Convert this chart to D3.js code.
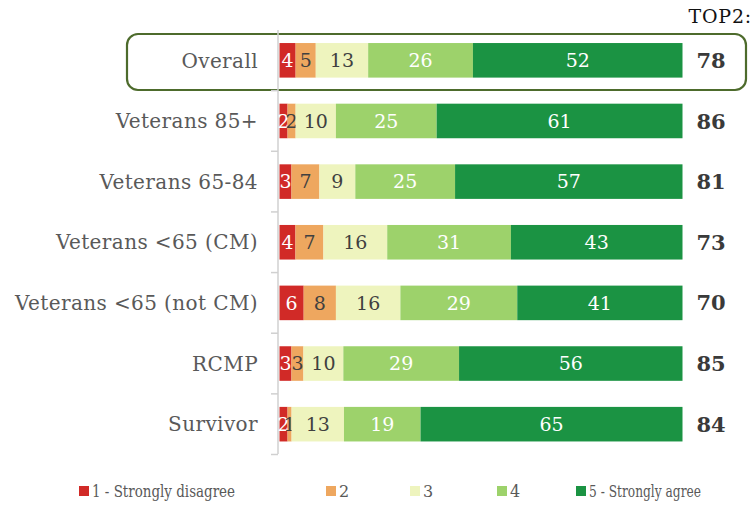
<!DOCTYPE html>
<html><head><meta charset="utf-8">
<script src="https://cdn.jsdelivr.net/npm/d3@7"></script>
<style>body{margin:0;background:#fff}svg{display:block}</style>
</head><body>
<svg id="c" width="753" height="506"></svg>
<script>
const categories = ["Overall","Veterans 85+","Veterans 65-84","Veterans <65 (CM)","Veterans <65 (not CM)","RCMP","Survivor"];
const seriesNames = ["1 - Strongly disagree","2","3","4","5 - Strongly agree"];
const s1 = [4,2,3,4,6,3,2];
const s2 = [5,2,7,7,8,3,1];
const s3 = [13,10,9,16,16,10,13];
const s4 = [26,25,25,31,29,29,19];
const s5 = [52,61,57,43,41,56,65];
const top2 = [78,86,81,73,70,85,84];
const colors = ["#d12a27","#eea75f","#eef4be","#9dd26b","#1b9343"];
const labelColors = ["#fff","#404040","#404040","#fff","#fff"];

const svg = d3.select("#c");
const font = "DejaVu Serif";
const keys = ["a","b","c","d","e"];
const series = [s1,s2,s3,s4,s5];
const rows = categories.map((c,i)=>{const o={cat:c}; keys.forEach((k,j)=>o[k]=series[j][i]); return o;});
const stack = d3.stack().keys(keys).offset(d3.stackOffsetExpand)(rows);

const x = d3.scaleLinear().domain([0,1]).range([279.5,682.5]);
const y = d3.scaleBand().domain(categories).range([30,454.5]).paddingInner(0.43).paddingOuter(0.215);

// highlight box
svg.append("rect").attr("x",127).attr("y",34).attr("width",619).attr("height",56)
  .attr("rx",11).attr("fill","none").attr("stroke","#4d6b2c").attr("stroke-width",2.2);

// axis
const axis = d3.axisLeft(y).tickSize(0).tickFormat("");
const gAx = svg.append("g").attr("transform","translate(278,0)").call(axis);
gAx.select(".domain").attr("stroke","#d0d0d0").attr("stroke-width",1.5).attr("d","M0,30V454");
const step = y.step();
gAx.selectAll(".tb").data(d3.range(1,categories.length+1)).enter().append("line")
  .attr("x1",-7).attr("x2",0)
  .attr("y1",i=>y(categories[i-1])+y.bandwidth()/2+step/2)
  .attr("y2",i=>y(categories[i-1])+y.bandwidth()/2+step/2)
  .attr("stroke","#d0d0d0").attr("stroke-width",1.5);

// category labels
svg.append("g").selectAll("text").data(categories).enter().append("text")
  .attr("x",258).attr("y",d=>y(d)+y.bandwidth()/2).attr("dy","0.36em")
  .attr("text-anchor","end").attr("font-family",font).attr("font-size",20)
  .attr("letter-spacing",0.4)
  .attr("fill","#595959").text(d=>d);

// bars
const g = svg.append("g");
stack.forEach((layer,j)=>{
  const gl = g.append("g");
  gl.selectAll("rect").data(layer).enter().append("rect")
    .attr("x",d=>x(d[0])).attr("width",d=>x(d[1])-x(d[0]))
    .attr("y",d=>y(d.data.cat)).attr("height",y.bandwidth())
    .attr("fill",colors[j]);
  gl.selectAll("text").data(layer).enter().append("text")
    .attr("x",d=>(x(d[0])+x(d[1]))/2).attr("y",d=>y(d.data.cat)+y.bandwidth()/2)
    .attr("dy","0.36em").attr("text-anchor","middle")
    .attr("font-family",font).attr("font-size",19).attr("fill",labelColors[j])
    .text(d=>d.data[keys[j]]);
});

// top2
svg.append("g").selectAll("text").data(categories).enter().append("text")
  .attr("x",711).attr("y",d=>y(d)+y.bandwidth()/2).attr("dy","0.36em")
  .attr("text-anchor","middle").attr("font-family",font).attr("font-weight","bold")
  .attr("font-size",21).attr("fill","#3a3a3a").text((d,i)=>top2[i]);
svg.append("text").attr("x",752).attr("y",23).attr("text-anchor","end")
  .attr("font-family",font).attr("font-size",19).attr("letter-spacing",0.8)
  .attr("fill","#111").text("TOP2:");

// legend
const legX = [79,326,410,497,576];
const legW = [143,null,null,null,112];
const leg = svg.append("g");
seriesNames.forEach((n,j)=>{
  leg.append("rect").attr("x",legX[j]).attr("y",486).attr("width",10).attr("height",10).attr("fill",colors[j]);
  const t = leg.append("text").attr("x",legX[j]+13).attr("y",491).attr("dy","0.36em")
    .attr("font-family",font).attr("font-size",16)
    .attr("fill","#595959").text(n);
  if (legW[j]) t.attr("textLength",legW[j]).attr("lengthAdjust","spacingAndGlyphs");
});
</script>
</body></html>
